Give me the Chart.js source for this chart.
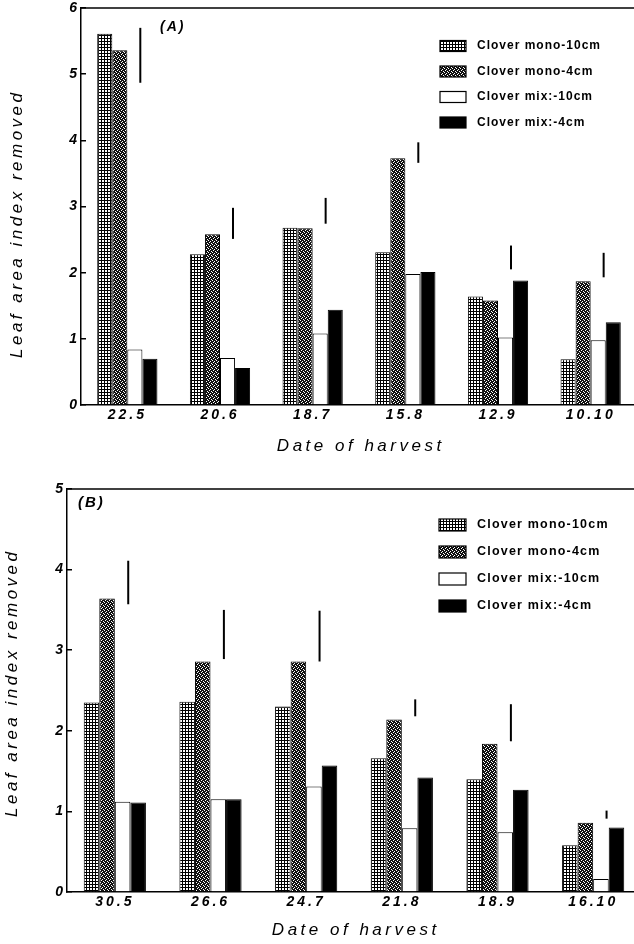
<!DOCTYPE html>
<html>
<head>
<meta charset="utf-8">
<script src="https://cdn.jsdelivr.net/npm/chart.js@4.4.1/dist/chart.umd.min.js"></script>
<style>
  html, body { margin: 0; padding: 0; background: #fff; width: 634px; height: 944px; overflow: hidden; }
  canvas { position: absolute; left: 0; display: block; }
</style>
</head>
<body>
<canvas id="chartA" width="640" height="462" style="top:0"></canvas>
<canvas id="chartB" width="645" height="482" style="top:462px"></canvas>
<script>
// Treatments (legend order)
const seriesNames = ['Clover mono-10cm', 'Clover mono-4cm', 'Clover mix:-10cm', 'Clover mix:-4cm'];

// Panel (A): harvest dates and leaf area index removed
const datesA = ['22.5', '20.6', '18.7', '15.8', '12.9', '10.10'];
const mono10A = [5.61, 2.28, 2.68, 2.31, 1.64, 0.69];
const mono4A  = [5.36, 2.58, 2.67, 3.73, 1.58, 1.87];
const mix10A  = [0.84, 0.71, 1.08, 1.98, 1.02, 0.98];
const mix4A   = [0.70, 0.56, 1.44, 2.01, 1.88, 1.25];
const lsdTopA    = [5.70, 2.98, 3.13, 3.97, 2.41, 2.30];
const lsdBottomA = [4.87, 2.51, 2.74, 3.66, 2.05, 1.93];
const yTicksA = [0, 1, 2, 3, 4, 5, 6];

// Panel (B)
const datesB = ['30.5', '26.6', '24.7', '21.8', '18.9', '16.10'];
const mono10B = [2.35, 2.36, 2.30, 1.66, 1.40, 0.58];
const mono4B  = [3.64, 2.86, 2.86, 2.14, 1.84, 0.86];
const mix10B  = [1.12, 1.15, 1.31, 0.79, 0.74, 0.16];
const mix4B   = [1.11, 1.15, 1.57, 1.42, 1.27, 0.80];
const lsdTopB    = [4.11, 3.50, 3.49, 2.39, 2.33, 1.01];
const lsdBottomB = [3.57, 2.89, 2.86, 2.18, 1.87, 0.91];
const yTicksB = [0, 1, 2, 3, 4, 5];

const FONT = '"Liberation Sans", Arial, Helvetica, sans-serif';

// Fine square grid fill
function gridPattern(ctx) {
  const c = document.createElement('canvas');
  c.width = 3; c.height = 3;
  const g = c.getContext('2d');
  g.fillStyle = '#000'; g.fillRect(0, 0, 3, 3);
  g.fillStyle = '#fff'; g.fillRect(0, 0, 2, 2);
  return ctx.createPattern(c, 'repeat');
}
// Dark stipple fill
function stipplePattern(ctx) {
  const c = document.createElement('canvas');
  c.width = 4; c.height = 4;
  const g = c.getContext('2d');
  g.fillStyle = '#111'; g.fillRect(0, 0, 4, 4);
  g.fillStyle = '#fff';
  [[0, 0], [2, 1], [1, 2], [3, 3]].forEach(([x, y]) => g.fillRect(x, y, 1, 1));
  return ctx.createPattern(c, 'repeat');
}

function spacedText(ctx, text, x, y, spacing, align) {
  ctx.letterSpacing = spacing + 'px';
  ctx.textAlign = align || 'left';
  const shift = align === 'center' ? spacing / 2 : 0;
  ctx.fillText(text, x + shift, y);
  ctx.letterSpacing = '0px';
}

// Wider tracking for the axis tick labels
const trackingPlugin = {
  id: 'tracking',
  beforeDraw(chart) { chart.ctx.letterSpacing = '3px'; },
  beforeDatasetsDraw(chart) { chart.ctx.letterSpacing = '0px'; }
};

// Frame, LSD bars, panel tag, axis titles and legend
const decorPlugin = {
  id: 'decor',
  afterDatasetsDraw(chart, args, opts) {
    const ctx = chart.ctx;
    const xs = chart.scales.x, ys = chart.scales.y;
    const catW = xs.width / chart.data.labels.length;
    ctx.save();
    ctx.strokeStyle = '#000';
    ctx.lineWidth = 2;
    opts.lsdTop.forEach((top, i) => {
      const x = xs.getPixelForValue(i) + opts.lsdOffset * catW;
      ctx.beginPath();
      ctx.moveTo(x, ys.getPixelForValue(top));
      ctx.lineTo(x, ys.getPixelForValue(opts.lsdBottom[i]));
      ctx.stroke();
    });
    ctx.restore();
  },
  afterDraw(chart, args, opts) {
    const ctx = chart.ctx;
    const a = chart.chartArea;
    ctx.save();
    // top edge of the frame
    ctx.strokeStyle = '#000';
    ctx.lineWidth = 1.5;
    ctx.beginPath();
    ctx.moveTo(a.left, a.top);
    ctx.lineTo(chart.width, a.top);
    ctx.stroke();

    ctx.fillStyle = '#000';
    ctx.textBaseline = 'middle';

    // panel tag
    ctx.font = 'italic bold ' + opts.tagSize + 'px ' + FONT;
    spacedText(ctx, opts.tag, a.left + opts.tagDx, a.top + opts.tagDy, 2);

    // x title
    ctx.font = 'italic 17px ' + FONT;
    spacedText(ctx, 'Date of harvest', (a.left + a.right) / 2, chart.height - opts.xTitleUp, 3.5, 'center');

    // y title
    ctx.save();
    ctx.translate(opts.yTitleX, (a.top + a.bottom) / 2 + opts.yTitleDy);
    ctx.rotate(-Math.PI / 2);
    spacedText(ctx, 'Leaf area index removed', 0, 0, 3.5, 'center');
    ctx.restore();

    // legend
    chart.data.datasets.forEach((ds, i) => {
      const cy = a.top + opts.legendDy + i * opts.legendGap;
      const sx = a.left + opts.legendDx;
      ctx.fillStyle = ds.backgroundColor;
      ctx.fillRect(sx, cy - opts.swatchH / 2, opts.swatchW, opts.swatchH);
      ctx.strokeStyle = '#000';
      ctx.lineWidth = 1.2;
      ctx.strokeRect(sx, cy - opts.swatchH / 2, opts.swatchW, opts.swatchH);
      ctx.fillStyle = '#000';
      ctx.font = 'bold ' + opts.legendSize + 'px ' + FONT;
      spacedText(ctx, ds.label, sx + opts.textDx, cy, opts.legendSpacing);
    });
    ctx.restore();
  }
};

function makeChart(id, labels, series, yTicks, layout, decor) {
  const ctx = document.getElementById(id).getContext('2d');
  const fills = [gridPattern(ctx), stipplePattern(ctx), '#ffffff', '#000000'];
  const tickFont = { family: FONT, size: 14, style: 'italic', weight: 'bold' };
  return new Chart(ctx, {
    type: 'bar',
    data: {
      labels: labels,
      datasets: series.map((vals, i) => ({
        label: seriesNames[i],
        data: vals,
        backgroundColor: fills[i],
        borderColor: '#000',
        borderWidth: 1,
        borderSkipped: 'start',
        barPercentage: 1.0,
        categoryPercentage: 0.65
      }))
    },
    options: {
      responsive: false,
      animation: false,
      devicePixelRatio: 1,
      layout: { padding: { top: layout.top, right: layout.right, left: 0, bottom: 0 } },
      plugins: { legend: { display: false }, tooltip: { enabled: false }, decor: decor },
      scales: {
        x: {
          grid: { display: false },
          border: { color: '#000', width: 1.5 },
          ticks: { font: tickFont, color: '#000', padding: -6, maxRotation: 0, autoSkip: false },
          afterFit(s) {
            s.height = layout.xHeight;
            s.paddingLeft = 0; s.paddingRight = 0;
          }
        },
        y: {
          min: yTicks[0],
          max: yTicks[yTicks.length - 1],
          afterBuildTicks(s) { s.ticks = yTicks.map(v => ({ value: v })); },
          grid: { drawOnChartArea: false, drawTicks: true, tickLength: -5, color: '#000', lineWidth: 1.5 },
          border: { color: '#000', width: 1.5 },
          ticks: { font: tickFont, color: '#000', padding: 6 },
          afterFit(s) {
            s.width = layout.yWidth;
            s.paddingTop = 0; s.paddingBottom = 0;
          }
        }
      }
    },
    plugins: [trackingPlugin, decorPlugin]
  });
}

makeChart('chartA', datesA, [mono10A, mono4A, mix10A, mix4A], yTicksA,
  { top: 8, right: 3, xHeight: 57, yWidth: 81 },
  { lsdTop: lsdTopA, lsdBottom: lsdBottomA, lsdOffset: 0.14,
    tag: '(A)', tagSize: 14, tagDx: 79, tagDy: 19.5,
    xTitleUp: 16, yTitleX: 17.5, yTitleDy: 19,
    legendDx: 359, legendDy: 38, legendGap: 25.5, swatchW: 26, swatchH: 11, textDx: 37,
    legendSize: 12, legendSpacing: 1 });

makeChart('chartB', datesB, [mono10B, mono4B, mix10B, mix4B], yTicksB,
  { top: 27, right: 4, xHeight: 52, yWidth: 67 },
  { lsdTop: lsdTopB, lsdBottom: lsdBottomB, lsdOffset: 0.14,
    tag: '(B)', tagSize: 15, tagDx: 11, tagDy: 14,
    xTitleUp: 14, yTitleX: 12, yTitleDy: -6,
    legendDx: 372, legendDy: 36, legendGap: 27, swatchW: 27, swatchH: 12, textDx: 38,
    legendSize: 12.5, legendSpacing: 1.2 });
</script>
</body>
</html>
